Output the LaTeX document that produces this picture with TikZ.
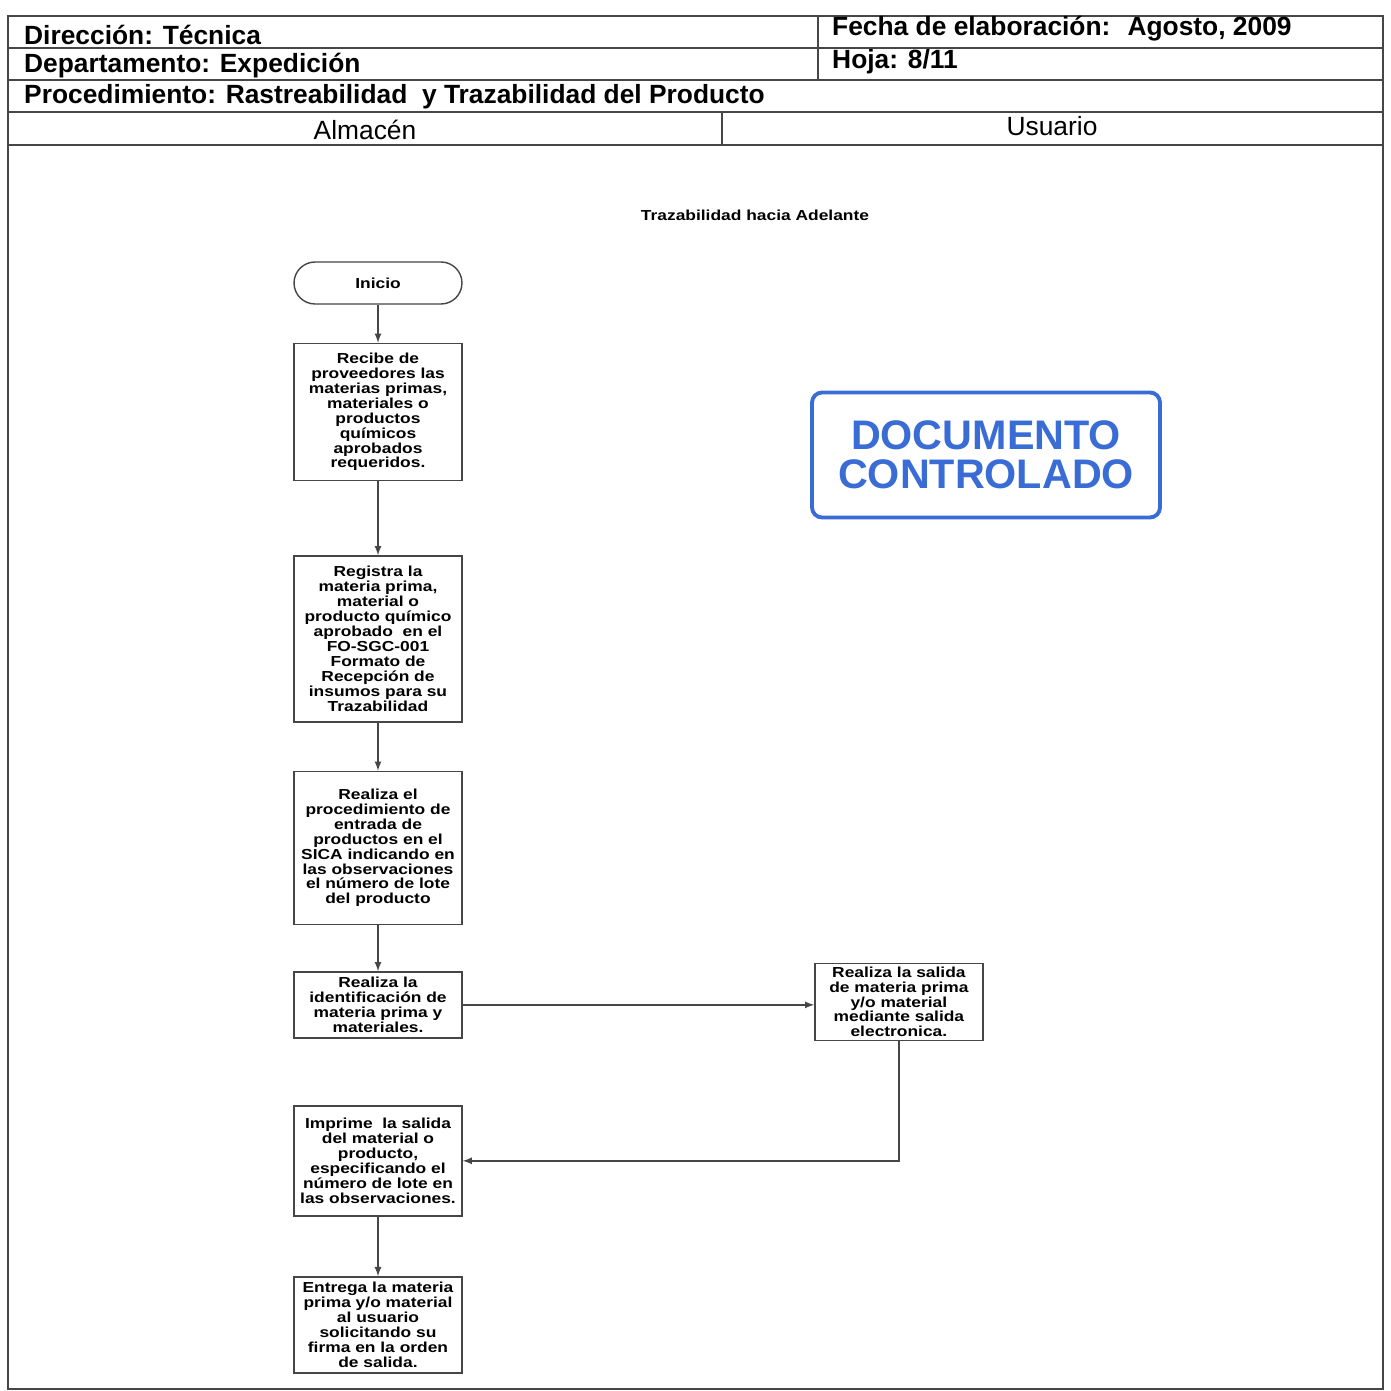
\documentclass[tikz,border=0pt]{standalone}
\usepackage{fontspec}
\setmainfont{Liberation Sans}
\newfontfamily\cajafont[FakeStretch=1.2]{Liberation Sans}
\usetikzlibrary{positioning, arrows}
\definecolor{sello}{RGB}{58,108,214}
\definecolor{linea}{RGB}{70,70,70}
\tikzset{
	->, % conectores con flecha
	>=latex, % punta triangular rellena
	x=0.02cm, y=-0.02cm, % coordenadas en pixeles de la hoja
	caja/.style={draw=linea, line width=0.8pt, minimum width=3.36cm, align=center, inner sep=0pt, font=\cajafont\bfseries\fontsize{8.25}{8.5}\selectfont}, % pasos del proceso
	inicio/.style={caja, rounded corners=0.42cm, minimum height=0.84cm}, % terminal
	marco/.style={-, draw=linea, line width=1.3pt}, % lineas del encabezado
	encab/.style={anchor=west, font=\bfseries\fontsize{15}{15}\selectfont}, % textos del encabezado
	carril/.style={font=\fontsize{15}{15}\selectfont}, % nombres de carril
	flujo/.style={draw=linea, line width=0.8pt} % conectores
}

\begin{document}
\begin{tikzpicture}
			\useasboundingbox[fill=white] (0,0) rectangle (1390,1391);
			% encabezado
			\draw[marco] (8,16) rectangle (1383,1389);
			\draw[marco] (8,48) -- (1383,48);
			\draw[marco] (8,80) -- (1383,80);
			\draw[marco] (8,112) -- (1383,112);
			\draw[marco] (8,145) -- (1383,145);
			\draw[marco] (818,16) -- (818,80);
			\draw[marco] (722,112) -- (722,145);
			\node[encab] (dir) at (18,35) {Dirección: Técnica};
			\node[encab] (dep) at (18,66) {Departamento: Expedición};
			\node[encab] (proc) at (18,97) {Procedimiento: Rastreabilidad \ y Trazabilidad del Producto};
			\node[encab] (fecha) at (826,29) {Fecha de elaboración: \ Agosto, 2009};
			\node[encab] (hoja) at (826,62) {Hoja: 8/11};
			\node[carril] (alm) at (365,130) {Almacén};
			\node[carril] (usu) at (1052,126) {Usuario};
			\node[font=\cajafont\bfseries\fontsize{8.25}{8.5}\selectfont] (titulo) at (755,215) {Trazabilidad hacia Adelante};
			% sello
			\node[draw=sello, text=sello, line width=2.2pt, rounded corners=0.2cm, minimum width=6.96cm, minimum height=2.5cm, align=center, font=\bfseries\fontsize{23.5}{22.5}\selectfont] (sello) at (986,455) {DOCUMENTO\\CONTROLADO};
			% diagrama
			\node[inicio] (ini) at (378,283) {Inicio};
			\node[caja, minimum height=2.74cm, below of=ini, node distance=2.58cm] (recibe) {Recibe de\\proveedores las\\materias primas,\\materiales o\\productos\\químicos\\aprobados\\requeridos.};
			\node[caja, minimum height=3.32cm, below of=recibe, node distance=4.54cm] (registra) {Registra la\\materia prima,\\material o\\producto químico\\aprobado \ en el\\FO-SGC-001\\Formato de\\Recepción de\\insumos para su\\Trazabilidad};
			\node[caja, minimum height=3.06cm, below of=registra, node distance=4.18cm] (entrada) {Realiza el\\procedimiento de\\entrada de\\productos en el\\SICA indicando en\\las observaciones\\el número de lote\\del producto};
			\node[caja, minimum height=1.32cm, below of=entrada, node distance=3.14cm] (ident) {Realiza la\\identificación de\\materia prima y\\materiales.};
			\node[caja, minimum height=1.54cm, right of=ident, node distance=10.42cm, yshift=0.06cm] (salida) {Realiza la salida\\de materia prima\\y/o material\\mediante salida\\electronica.};
			\node[caja, minimum height=2.2cm, below of=ident, node distance=3.12cm] (imprime) {Imprime \ la salida\\del material o\\producto,\\especificando el\\número de lote en\\las observaciones.};
			\node[caja, minimum height=1.92cm, below of=imprime, node distance=3.28cm] (entrega) {Entrega la materia\\prima y/o material\\al usuario\\solicitando su\\firma en la orden\\de salida.};
			\draw[flujo] (ini) -- (recibe);
			\draw[flujo] (recibe) -- (registra);
			\draw[flujo] (registra) -- (entrada);
			\draw[flujo] (entrada) -- (ident);
			\draw[flujo] (ident) -- (ident -| salida.west);
			\draw[flujo] (salida) |- (imprime);
			\draw[flujo] (imprime) -- (entrega);
\end{tikzpicture}
\end{document}
